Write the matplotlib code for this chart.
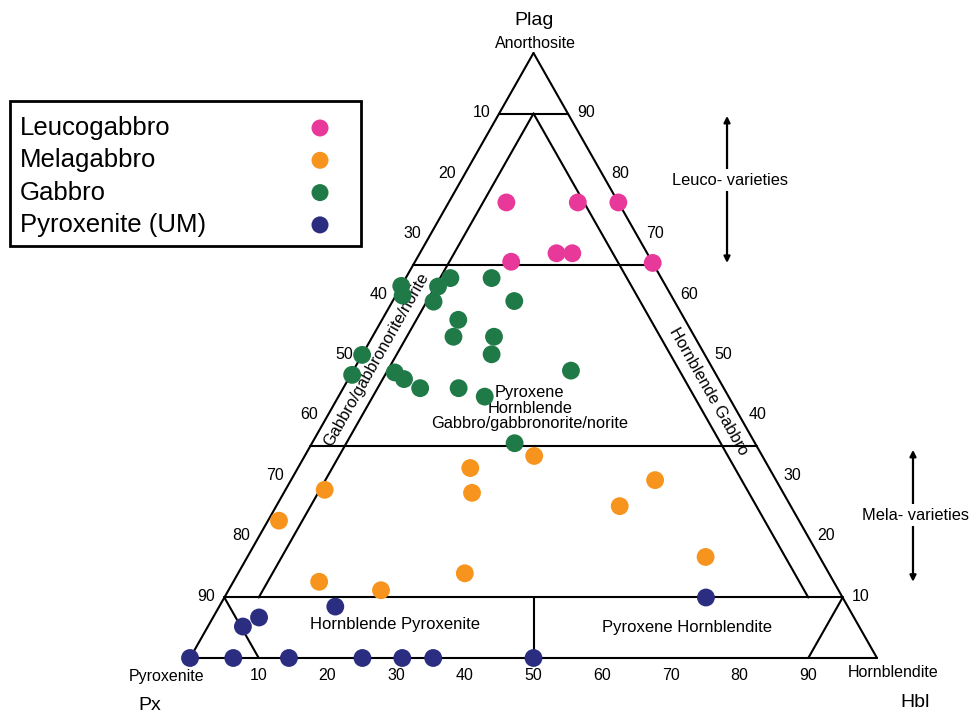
import matplotlib.pyplot as plt
import numpy as np
from matplotlib.patches import Rectangle

plt.rcParams['font.family'] = ['Liberation Sans', 'DejaVu Sans']

# modal compositions, % Plag and % Hbl (Px is the remainder)
leuco_plag = [75.3, 75.3, 75.3, 65.5, 66.9, 66.9, 65.3]
leuco_hbl = [8.4, 18.8, 24.7, 14.0, 19.9, 22.2, 34.7]

mela_plag = [31.4, 27.3, 27.8, 22.7, 12.6, 11.2, 14.0, 33.4, 29.4, 25.1, 16.7]
mela_hbl = [25.1, 27.4, 5.7, 1.6, 12.5, 22.2, 33.0, 33.4, 53.0, 50.0, 66.7]

gabbro_plag = [61.5, 59.9, 61.4, 62.8, 58.9, 62.8, 59.0, 55.9, 53.1, 53.1,
               50.2, 50.1, 46.8, 47.2, 46.1, 44.6, 44.6, 43.2, 47.5, 35.5]
gabbro_hbl = [0.0, 1.0, 5.4, 6.5, 6.0, 12.5, 17.7, 11.1, 11.8, 17.7,
              18.8, 0.0, 0.2, 6.2, 8.1, 11.2, 16.8, 21.3, 31.7, 29.5]

pyx_plag = [8.5, 6.7, 5.2, 0, 0, 0, 0, 0, 0, 0, 10.0]
pyx_hbl = [16.9, 6.7, 5.1, 0, 6.3, 14.4, 25.1, 30.9, 35.4, 50.0, 70.1]

groups = ['Leucogabbro', 'Melagabbro', 'Gabbro', 'Pyroxenite (UM)']
colors = ['#e8399a', '#f7941d', '#1f7a48', '#2b2d80']
ticks = [10, 20, 30, 40, 50, 60, 70, 80, 90]

H = np.sqrt(3) / 2


def tern(plag, hbl):
    plag = np.asarray(plag, dtype=float) / 100
    hbl = np.asarray(hbl, dtype=float) / 100
    return hbl + plag / 2, plag * H


def seg(ax, p1, p2, lw=1.5):
    x1, y1 = tern(*p1)
    x2, y2 = tern(*p2)
    ax.plot([x1, x2], [y1, y2], color='black', lw=lw, solid_capstyle='round', zorder=2)


fig = plt.figure(figsize=(9.72, 7.15), dpi=100)
ax = fig.add_axes([0, 0, 1, 1])
ax.set_xlim(-0.2766, 1.1383)
ax.set_ylim(-0.0816, 0.9419)
ax.axis('off')

# outer triangle
seg(ax, (0, 0), (0, 100))
seg(ax, (0, 100), (100, 0))
seg(ax, (100, 0), (0, 0))

# plag boundaries (90, 65, 35, 10)
for p in [90, 65, 35, 10]:
    seg(ax, (p, 0), (p, 100 - p))

# 5% Hbl and 5% Px lines
seg(ax, (90, 5), (10, 5))
seg(ax, (90, 5), (10, 85))

# ultramafic subdivisions
seg(ax, (10, 45), (0, 50))
seg(ax, (10, 0), (0, 10))
seg(ax, (10, 90), (0, 90))

# tick labels
tick_font = dict(fontsize=11.5, ha='center', va='center', textcoords='offset pixels')
for v in ticks:
    ax.annotate(str(v), tern(100 - v, 0), xytext=(-18, 1), **tick_font)
    ax.annotate(str(v), tern(v, 100 - v), xytext=(18, 1), **tick_font)
    ax.annotate(str(v), tern(0, v), xytext=(0, -18), **tick_font)

# apex labels
ax.annotate('Plag', tern(100, 0), xytext=(1, 33), fontsize=14, ha='center', va='center',
            textcoords='offset pixels')
ax.annotate('Anorthosite', tern(100, 0), xytext=(2, 10), fontsize=11.5, ha='center',
            va='center', textcoords='offset pixels')
ax.annotate('Pyroxenite', tern(0, 0), xytext=(-23, -19), fontsize=11.5, ha='center',
            va='center', textcoords='offset pixels')
ax.annotate('Px', tern(0, 0), xytext=(-40, -48), fontsize=14, ha='center', va='center',
            textcoords='offset pixels')
ax.annotate('Hornblendite', tern(0, 100), xytext=(16, -15), fontsize=11.5, ha='center',
            va='center', textcoords='offset pixels')
ax.annotate('Hbl', tern(0, 100), xytext=(38, -45), fontsize=14, ha='center', va='center',
            textcoords='offset pixels')

# field names
ax.text(*tern(49.3, 2.5), 'Gabbro/gabbronorite/norite', fontsize=11.8, rotation=60.4,
        ha='center', va='center', rotation_mode='anchor')
ax.text(*tern(44.1, 53.4), 'Hornblende Gabbro', fontsize=11.8, rotation=-60.4,
        ha='center', va='center', rotation_mode='anchor')
ax.text(*tern(41.3, 28.8), 'Pyroxene\nHornblende\nGabbro/gabbronorite/norite',
        fontsize=11.8, ha='center', va='center', linespacing=1.02)
ax.text(*tern(5.5, 27.1), 'Hornblende Pyroxenite', fontsize=12, ha='center', va='center')
ax.text(*tern(5.1, 69.8), 'Pyroxene Hornblendite', fontsize=12, ha='center', va='center')

# sample points
for name, c, pl, hb in zip(groups, colors,
                           [leuco_plag, mela_plag, gabbro_plag, pyx_plag],
                           [leuco_hbl, mela_hbl, gabbro_hbl, pyx_hbl]):
    x, y = tern(pl, hb)
    ax.scatter(x, y, s=165, color=c, edgecolors='none', zorder=3, label=name)

# legend box drawn by hand: labels left, markers right
tf = ax.transAxes
ax.add_patch(Rectangle((10 / 972, 1 - 246 / 715), 351 / 972, 145 / 715, transform=tf,
                       fill=False, ec='black', lw=2, zorder=5))
for i, (name, c) in enumerate(zip(groups, colors)):
    yy = 1 - (128 + i * 32.3) / 715
    ax.text(20 / 972, yy, name, transform=tf, fontsize=18.5, ha='left', va='center')
    ax.scatter([320 / 972], [yy], s=150, color=c, edgecolors='none', transform=tf, zorder=5)

# leuco / mela range arrows
for xa, top, bottom, mid, label in [(0.7817, 89.6, 65.3, 79.0, 'Leuco- varieties'),
                                   (1.0524, 34.4, 12.6, 23.6, 'Mela- varieties')]:
    ax.annotate('', xy=(xa, top / 100 * H), xytext=(xa, bottom / 100 * H),
                arrowprops=dict(arrowstyle='<|-|>', mutation_scale=9, lw=1.6,
                                color='black', shrinkA=0, shrinkB=0))
    ax.text(xa + 0.004, mid / 100 * H, label, fontsize=11.8, ha='center', va='center',
            bbox=dict(fc='white', ec='none', pad=2.5), zorder=4)

fig.savefig('out.png', dpi=100)
